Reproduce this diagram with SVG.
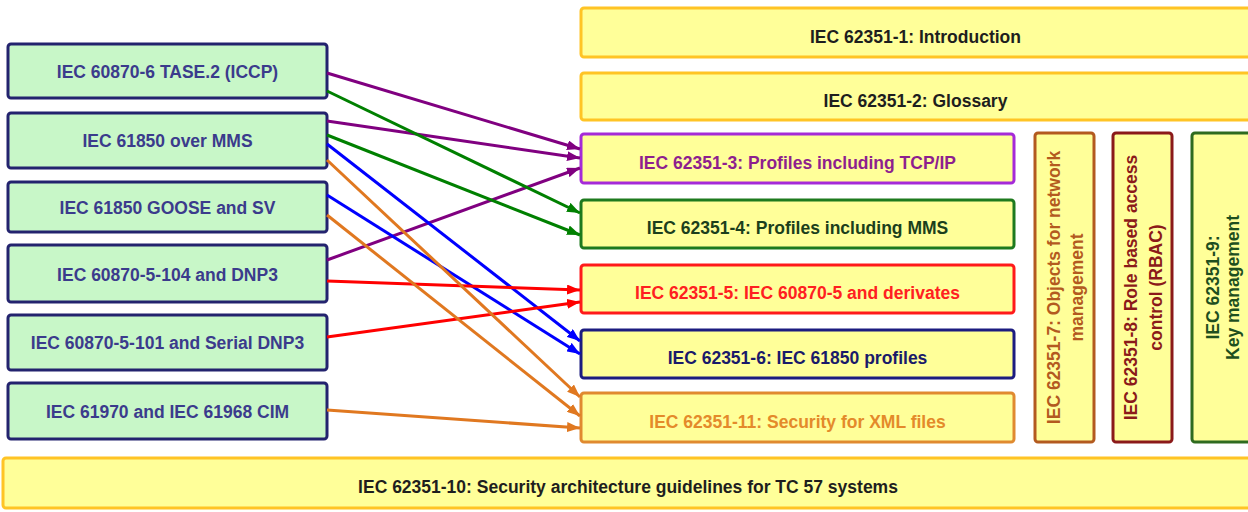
<svg xmlns="http://www.w3.org/2000/svg" width="1248" height="512" viewBox="0 0 1248 512">
<style>
  text { font-family: "Liberation Sans", Arial, sans-serif; font-weight: bold; font-size: 17.5px; text-anchor: middle; }
  .src rect { fill: #c8f7c8; stroke: #23236e; stroke-width: 3; }
  .src text { fill: #3b3b8c; }
  .std rect { fill: #ffff99; stroke-width: 3; }
  .gen rect { stroke: #ffc425; }
  .gen text { fill: #1e1e1e; }
  .conn line { stroke-width: 3; fill: none; }
</style>
<defs>
  <marker id="aP" markerUnits="userSpaceOnUse" markerWidth="13" markerHeight="10" refX="13" refY="5" orient="auto"><path d="M0,0 L13,5 L0,10 z" fill="#800080"/></marker>
  <marker id="aG" markerUnits="userSpaceOnUse" markerWidth="13" markerHeight="10" refX="13" refY="5" orient="auto"><path d="M0,0 L13,5 L0,10 z" fill="#008000"/></marker>
  <marker id="aB" markerUnits="userSpaceOnUse" markerWidth="13" markerHeight="10" refX="13" refY="5" orient="auto"><path d="M0,0 L13,5 L0,10 z" fill="#0000ff"/></marker>
  <marker id="aR" markerUnits="userSpaceOnUse" markerWidth="13" markerHeight="10" refX="13" refY="5" orient="auto"><path d="M0,0 L13,5 L0,10 z" fill="#ff0000"/></marker>
  <marker id="aO" markerUnits="userSpaceOnUse" markerWidth="13" markerHeight="10" refX="13" refY="5" orient="auto"><path d="M0,0 L13,5 L0,10 z" fill="#e07820"/></marker>
</defs>
<rect width="1248" height="512" fill="#ffffff"/>

<!-- source nodes -->
<g id="src1" class="src"><rect x="8" y="44" width="319" height="54" rx="3"/><text x="167.5" y="77.5">IEC 60870-6 TASE.2 (ICCP)</text></g>
<g id="src2" class="src"><rect x="8" y="113" width="319" height="55" rx="3"/><text x="167.5" y="147">IEC 61850 over MMS</text></g>
<g id="src3" class="src"><rect x="8" y="182" width="319" height="50" rx="3"/><text x="167.5" y="214">IEC 61850 GOOSE and SV</text></g>
<g id="src4" class="src"><rect x="8" y="245" width="319" height="57" rx="3"/><text x="167.5" y="281">IEC 60870-5-104 and DNP3</text></g>
<g id="src5" class="src"><rect x="8" y="315" width="319" height="55" rx="3"/><text x="167.5" y="348.5">IEC 60870-5-101 and Serial DNP3</text></g>
<g id="src6" class="src"><rect x="8" y="383" width="319" height="56" rx="3"/><text x="167.5" y="418">IEC 61970 and IEC 61968 CIM</text></g>

<!-- IEC 62351 parts -->
<g id="p1" class="std gen"><rect x="581" y="8" width="672" height="49" rx="3"/><text x="915.5" y="43">IEC 62351-1: Introduction</text></g>
<g id="p2" class="std gen"><rect x="581" y="73" width="672" height="47" rx="3"/><text x="915.5" y="107">IEC 62351-2: Glossary</text></g>
<g id="p3" class="std"><rect x="581" y="134" width="433" height="49" rx="3" stroke="#a52ad8"/><text x="797.5" y="169" fill="#8e1f8e">IEC 62351-3: Profiles including TCP/IP</text></g>
<g id="p4" class="std"><rect x="581" y="200" width="433" height="48" rx="3" stroke="#1e7a1e"/><text x="797.5" y="234" fill="#1c3f1c">IEC 62351-4: Profiles including MMS</text></g>
<g id="p5" class="std"><rect x="581" y="265" width="433" height="48" rx="3" stroke="#ff1a1a"/><text x="797.5" y="299" fill="#ff2020">IEC 62351-5: IEC 60870-5 and derivates</text></g>
<g id="p6" class="std"><rect x="581" y="330" width="433" height="48" rx="3" stroke="#1c1c80"/><text x="797.5" y="364" fill="#1a1a6a">IEC 62351-6: IEC 61850 profiles</text></g>
<g id="p11" class="std"><rect x="581" y="393" width="433" height="49" rx="3" stroke="#e08a30"/><text x="797.5" y="427.5" fill="#e48a2a">IEC 62351-11: Security for XML files</text></g>

<g id="p7" class="std"><rect x="1035" y="133" width="59" height="309" rx="3" stroke="#b35a1f"/>
  <g transform="translate(1064.5,287.5) rotate(-90)" fill="#b35a1f"><text x="0" y="-5">IEC 62351-7: Objects for network</text><text x="0" y="18">management</text></g></g>
<g id="p8" class="std"><rect x="1113" y="133" width="59" height="309" rx="3" stroke="#8b1a1a"/>
  <g transform="translate(1142.5,287.5) rotate(-90)" fill="#8b1a1a"><text x="0" y="-6">IEC 62351-8: Role based access</text><text x="0" y="19">control (RBAC)</text></g></g>
<g id="p9" class="std"><rect x="1192" y="133" width="62" height="309" rx="3" stroke="#2e6b1f"/>
  <g transform="translate(1223,287.5) rotate(-90)" fill="#1e4f1e"><text x="0" y="-4">IEC 62351-9:</text><text x="0" y="16">Key management</text></g></g>

<g id="p10" class="std gen"><rect x="3" y="458" width="1250" height="50" rx="3"/><text x="628" y="493">IEC 62351-10: Security architecture guidelines for TC 57 systems</text></g>

<!-- connectors -->
<g id="connectors" class="conn">
  <line x1="327" y1="73" x2="580" y2="149" stroke="#800080" marker-end="url(#aP)"/>
  <line x1="327" y1="121" x2="580" y2="158" stroke="#800080" marker-end="url(#aP)"/>
  <line x1="327" y1="260" x2="580" y2="168" stroke="#800080" marker-end="url(#aP)"/>
  <line x1="327" y1="91" x2="580" y2="213" stroke="#008000" marker-end="url(#aG)"/>
  <line x1="327" y1="135" x2="580" y2="235" stroke="#008000" marker-end="url(#aG)"/>
  <line x1="327" y1="144" x2="580" y2="341" stroke="#0000ff" marker-end="url(#aB)"/>
  <line x1="327" y1="195" x2="580" y2="354" stroke="#0000ff" marker-end="url(#aB)"/>
  <line x1="327" y1="281" x2="580" y2="290" stroke="#ff0000" marker-end="url(#aR)"/>
  <line x1="327" y1="337" x2="580" y2="302" stroke="#ff0000" marker-end="url(#aR)"/>
  <line x1="327" y1="160" x2="580" y2="397" stroke="#e07820" marker-end="url(#aO)"/>
  <line x1="327" y1="215" x2="580" y2="416" stroke="#e07820" marker-end="url(#aO)"/>
  <line x1="327" y1="410" x2="580" y2="428" stroke="#e07820" marker-end="url(#aO)"/>
</g>
</svg>
